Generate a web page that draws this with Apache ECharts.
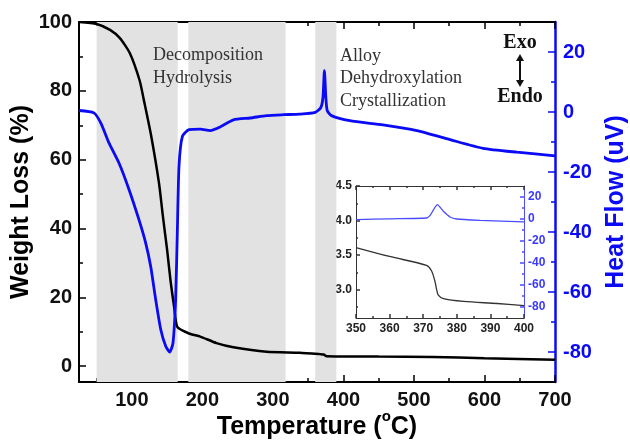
<!DOCTYPE html>
<html>
<head>
<meta charset="utf-8">
<script src="https://cdn.jsdelivr.net/npm/echarts@6/dist/echarts.min.js"></script>
<style>
html, body { margin: 0; padding: 0; background: #fff; }
#main { width: 630px; height: 444px; }
</style>
</head>
<body>
<div id="main"></div>
<script>
// weight loss curve (TGA), main plot
var tgaTemp = [25, 50, 69, 83, 97, 111, 117, 127, 138.5, 144, 150, 155, 160, 164.4, 181, 197, 220, 244, 291, 338, 367, 372, 376, 450, 527, 600, 700];
var tgaWeight = [100, 99.4, 97.7, 95.3, 91, 83, 77.3, 67.3, 53.1, 43.5, 33.7, 24.5, 17, 11.4, 9.5, 8.6, 6.7, 5.5, 4.2, 3.9, 3.5, 3.4, 2.9, 2.8, 2.7, 2.3, 1.9];

// heat flow curve (DSC), main plot
var dscTemp = [25, 46, 56, 67.5, 81.7, 96, 110, 119.6, 126.7, 133.8, 141, 148, 153.6, 158.3, 162, 164.4, 166.8, 171.6, 181, 197, 211, 225, 244, 268, 291, 315, 338, 360, 368, 371, 373, 375, 377, 383, 409, 456, 504, 551, 598, 646, 700];
var dscFlow = [0.5, -0.3, -3.7, -10.3, -17, -25.9, -35.9, -43.7, -51.5, -62.6, -72.6, -78.1, -80, -77, -62.6, -40.4, -18.1, -8.1, -5.9, -5.7, -6.2, -5, -2.6, -2, -1.2, -0.9, -0.7, -0.1, 1.5, 5, 13.8, 5, 0.5, -1.2, -2.9, -4.3, -6.2, -9.2, -12.1, -13.4, -14.6];

// inset, 350-400 C
var insetTgaTemp = [350, 360, 371, 372.5, 373.5, 374, 374.5, 376, 382, 392, 400];
var insetTgaWeight = [3.61, 3.48, 3.35, 3.27, 3.12, 3.0, 2.92, 2.87, 2.83, 2.80, 2.77];
var insetDscTemp = [350, 360, 371, 372, 373, 374.2, 376, 378, 380, 387, 400];
var insetDscFlow = [-0.5, 0.2, 0.9, 3, 8, 13, 7, 1.8, 0, -1.2, -2.7];

// shaded temperature ranges
var bands = [[50, 165], [180, 318], [360, 390]];

// tick values
var xMajor = [100, 200, 300, 400, 500, 600, 700];
var xMinor = [50, 150, 250, 350, 450, 550, 650];
var wMajor = [0, 20, 40, 60, 80, 100];
var wMinor = [10, 30, 50, 70, 90];
var hMajor = [-80, -60, -40, -20, 0, 20];
var hMinor = [-70, -50, -30, -10, 10];
var ixMajor = [350, 360, 370, 380, 390, 400];
var ixMinor = [355, 365, 375, 385, 395];
var iwMajor = [3.0, 3.5, 4.0, 4.5];
var iwMinor = [2.75, 3.25, 3.75, 4.25];

function pairs(xs, ys) {
  return xs.map(function (x, i) { return [x, ys[i]]; });
}

var BLUE = '#0a0af5';
var FONT = 'Liberation Sans';
var SERIF = 'Liberation Serif';

// one axis that only draws ticks (and optionally line / labels)
function tickAxis(grid, pos, min, max, ticks, len, color, extra) {
  var a = {
    type: 'value',
    gridIndex: grid,
    position: pos,
    min: min,
    max: max,
    splitLine: { show: false },
    axisLine: { show: false, onZero: false, lineStyle: { color: color, width: 1.5 } },
    axisTick: { inside: true, length: len, customValues: ticks, lineStyle: { color: color, width: 1.5 } },
    axisLabel: { show: false }
  };
  for (var k in extra) a[k] = extra[k];
  return a;
}

var myChart = echarts.init(document.getElementById('main'));

var option = {
  animation: false,
  backgroundColor: '#fff',
  textStyle: { fontFamily: FONT },
  grid: [
    { left: 79, top: 22, width: 476, height: 360, outerBoundsMode: 'none', containLabel: false },
    { left: 356, top: 186, width: 168, height: 132, show: true, backgroundColor: '#fff', borderWidth: 0, outerBoundsMode: 'none', containLabel: false }
  ],
  xAxis: [
    tickAxis(0, 'bottom', 25, 700, xMajor, 7, '#000', {
      axisLine: { show: true, onZero: false, lineStyle: { color: '#000', width: 2 } },
      axisLabel: { show: true, customValues: xMajor, color: '#111', fontWeight: 'bold', fontSize: 20, margin: 8 },
      name: '{t|Temperature (}{s|o}{t|C)}',
      nameLocation: 'middle',
      nameGap: 27,
      nameMoveOverlap: false,
      nameTextStyle: {
        rich: {
          t: { fontSize: 25, fontWeight: 'bold', color: '#000', lineHeight: 36, fontFamily: FONT },
          s: { fontSize: 15, fontWeight: 'bold', color: '#000', verticalAlign: 'top', lineHeight: 14, fontFamily: FONT }
        }
      }
    }),
    tickAxis(0, 'bottom', 25, 700, xMinor, 4, '#000'),
    tickAxis(0, 'top', 25, 700, xMajor, 7, '#000', {
      axisLine: { show: true, onZero: false, lineStyle: { color: '#000', width: 2 } }
    }),
    tickAxis(0, 'top', 25, 700, xMinor, 4, '#000'),
    tickAxis(1, 'bottom', 350, 400, ixMajor, 4, '#333', {
      axisLine: { show: true, onZero: false, lineStyle: { color: '#333', width: 1 } },
      axisLabel: { show: true, customValues: ixMajor, color: '#222', fontWeight: 'bold', fontSize: 12, margin: 5 }
    }),
    tickAxis(1, 'bottom', 350, 400, ixMinor, 2, '#333'),
    tickAxis(1, 'top', 350, 400, ixMajor, 4, '#333', {
      axisLine: { show: true, onZero: false, lineStyle: { color: '#333', width: 1 } }
    }),
    tickAxis(1, 'top', 350, 400, ixMinor, 2, '#333')
  ],
  yAxis: [
    tickAxis(0, 'left', -4.6, 100, wMajor, 7, '#000', {
      axisLine: { show: true, onZero: false, lineStyle: { color: '#000', width: 2 } },
      axisLabel: { show: true, customValues: wMajor, color: '#111', fontWeight: 'bold', fontSize: 20, margin: 7 },
      name: 'Weight Loss (%)',
      nameLocation: 'middle',
      nameGap: 45,
      nameMoveOverlap: false,
      nameTextStyle: { fontSize: 25, fontWeight: 'bold', color: '#000', fontFamily: FONT }
    }),
    tickAxis(0, 'left', -4.6, 100, wMinor, 4, '#000'),
    tickAxis(0, 'right', -90, 30, hMajor, 7, BLUE, {
      axisLine: { show: true, onZero: false, lineStyle: { color: BLUE, width: 2.5 } },
      axisLabel: { show: true, customValues: hMajor, color: BLUE, fontWeight: 'bold', fontSize: 20, margin: 8 },
      name: 'Heat Flow (uV)',
      nameLocation: 'middle',
      nameGap: 49,
      nameRotate: 90,
      nameMoveOverlap: false,
      nameTextStyle: { fontSize: 25, fontWeight: 'bold', color: BLUE, fontFamily: FONT }
    }),
    tickAxis(0, 'right', -90, 30, hMinor, 4, BLUE),
    tickAxis(1, 'left', 2.59, 4.5, iwMajor, 4, '#333', {
      axisLine: { show: true, onZero: false, lineStyle: { color: '#333', width: 1 } },
      axisLabel: {
        show: true, customValues: iwMajor, color: '#222', fontWeight: 'bold', fontSize: 12, margin: 4,
        formatter: function (v) { return v.toFixed(1); }
      }
    }),
    tickAxis(1, 'left', 2.59, 4.5, iwMinor, 2, '#333'),
    tickAxis(1, 'right', -90, 30, hMajor, 4, '#4b4bff', {
      axisLine: { show: true, onZero: false, lineStyle: { color: '#4b4bff', width: 1 } },
      axisLabel: { show: true, customValues: hMajor, color: '#3a3aff', fontWeight: 'bold', fontSize: 12, margin: 4 }
    }),
    tickAxis(1, 'right', -90, 30, hMinor, 2, '#4b4bff')
  ],
  series: [
    {
      name: 'bands',
      type: 'line',
      xAxisIndex: 0,
      yAxisIndex: 0,
      data: [],
      z: 1,
      silent: true,
      markArea: {
        silent: true,
        itemStyle: { color: '#e2e2e2' },
        data: bands.map(function (b) { return [{ xAxis: b[0] }, { xAxis: b[1] }]; })
      }
    },
    {
      name: 'Weight Loss',
      type: 'line',
      xAxisIndex: 0,
      yAxisIndex: 0,
      data: pairs(tgaTemp, tgaWeight),
      showSymbol: false,
      smooth: 0.2,
      z: 3,
      lineStyle: { color: '#000', width: 2.5 }
    },
    {
      name: 'Heat Flow',
      type: 'line',
      xAxisIndex: 0,
      yAxisIndex: 2,
      data: pairs(dscTemp, dscFlow),
      showSymbol: false,
      smooth: 0.2,
      z: 4,
      lineStyle: { color: BLUE, width: 2.8 }
    },
    {
      name: 'Inset Weight',
      type: 'line',
      xAxisIndex: 4,
      yAxisIndex: 4,
      data: pairs(insetTgaTemp, insetTgaWeight),
      showSymbol: false,
      smooth: 0.3,
      z: 5,
      lineStyle: { color: '#333', width: 1.3 }
    },
    {
      name: 'Inset Heat',
      type: 'line',
      xAxisIndex: 4,
      yAxisIndex: 6,
      data: pairs(insetDscTemp, insetDscFlow),
      showSymbol: false,
      smooth: 0.2,
      z: 5,
      lineStyle: { color: '#4b4bff', width: 1.3 }
    }
  ],
  graphic: [
    {
      type: 'text', left: 153, top: 44, z: 10,
      style: { text: 'Decomposition\nHydrolysis', fontFamily: SERIF, fontSize: 18, lineHeight: 23, fill: '#333' }
    },
    {
      type: 'text', left: 340, top: 45, z: 10,
      style: { text: 'Alloy\nDehydroxylation\nCrystallization', fontFamily: SERIF, fontSize: 18, lineHeight: 22.5, fill: '#333' }
    },
    {
      type: 'text', x: 520, y: 43, z: 10,
      style: { text: 'Exo', fontFamily: SERIF, fontSize: 20, fontWeight: 'bold', fill: '#111', align: 'center', verticalAlign: 'middle' }
    },
    {
      type: 'text', x: 520, y: 97, z: 10,
      style: { text: 'Endo', fontFamily: SERIF, fontSize: 20, fontWeight: 'bold', fill: '#111', align: 'center', verticalAlign: 'middle' }
    },
    {
      type: 'line', z: 10,
      shape: { x1: 520, y1: 58, x2: 520, y2: 83 },
      style: { stroke: '#111', lineWidth: 2 }
    },
    {
      type: 'polygon', z: 10,
      shape: { points: [[516, 61], [524, 61], [520, 54]] },
      style: { fill: '#111' }
    },
    {
      type: 'polygon', z: 10,
      shape: { points: [[516, 80], [524, 80], [520, 87]] },
      style: { fill: '#111' }
    }
  ]
};

if (option && typeof option === 'object') {
  myChart.setOption(option);
}
</script>
</body>
</html>
